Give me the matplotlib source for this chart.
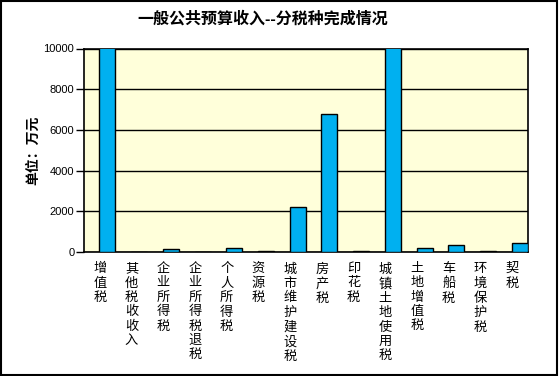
import matplotlib
matplotlib.use("Agg")
import matplotlib.pyplot as plt
from matplotlib.patches import Rectangle

plt.rcParams['font.family'] = ['Liberation Sans', 'Noto Sans CJK SC', 'DejaVu Sans']

categories = ["增值税", "其他税收收入", "企业所得税", "企业所得税退税", "个人所得税",
              "资源税", "城市维护建设税", "房产税", "印花税", "城镇土地使用税",
              "土地增值税", "车船税", "环境保护税", "契税"]
values = [15000, 0, 130, 0, 180, 50, 2200, 6780, 50, 15000, 180, 330, 50, 430]
yticks = [0, 2000, 4000, 6000, 8000, 10000]

W, H = 560, 376
fig = plt.figure(figsize=(W / 100, H / 100), dpi=100)
fig.patch.set_facecolor('white')
fig.patches.append(Rectangle((0.5 / W, 1.5 / H), 556.5 / W, 373.5 / H, transform=fig.transFigure,
                             fill=False, edgecolor='black', linewidth=1.5))

ax = fig.add_axes([84 / W, (376 - 252) / H, 444 / W, (252 - 48.5) / H])
ax.set_facecolor('#FFFFDA')
n = len(categories)
x = list(range(n))
ax.bar([i + 0.485 for i in x], values, width=0.505, align='edge',
       color='#00B0F0', edgecolor='black', linewidth=1.0, zorder=3)
ax.set_xlim(0, n)
ax.set_ylim(0, 10000)
ax.set_yticks(yticks)
ax.set_yticklabels([str(v) for v in yticks], fontsize=8)
ax.yaxis.grid(True, color='black', linewidth=1.0, zorder=1)
ax.set_axisbelow(True)
ax.tick_params(axis='y', length=5.5, width=1, pad=1.5)
ax.set_xticks([i + 0.5 for i in x])
ax.set_xticklabels(["\n".join(c) for c in categories], fontsize=9.5,
                   linespacing=1.25, va='top')
ax.tick_params(axis='x', length=0, pad=8)
for s in ax.spines.values():
    s.set_linewidth(1.2)
    s.set_color('black')

ax.set_ylabel("单位：万元", fontsize=10, fontweight='bold')
ax.yaxis.set_label_coords(-(84 - 40) / 444, 0.5)
fig.text(263 / W, 1 - 18.5 / H, "一般公共预算收入--分税种完成情况", ha='center', va='center',
         fontsize=11.5, fontweight='bold')

fig.savefig("out.png", dpi=100)
